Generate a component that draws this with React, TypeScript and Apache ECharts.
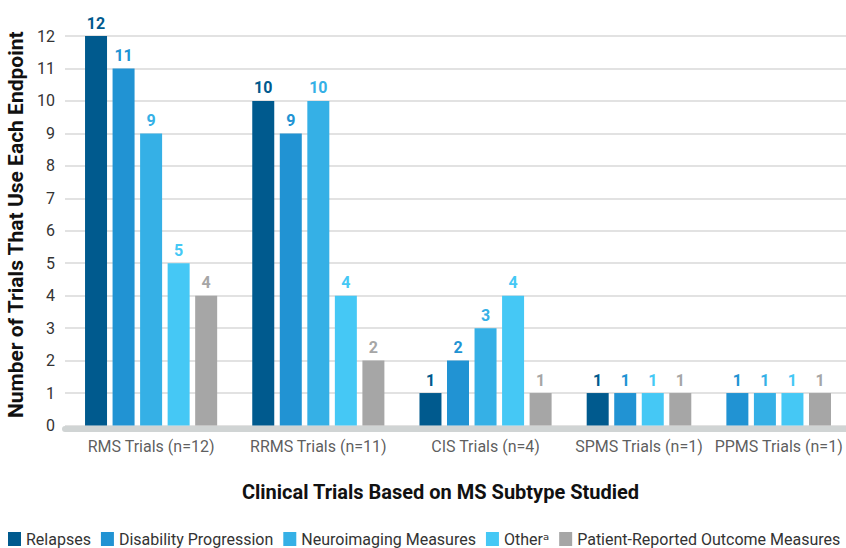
import React, { useEffect, useRef } from "react";
import * as echarts from "echarts";

const categories = [
  "RMS Trials (n=12)",
  "RRMS Trials (n=11)",
  "CIS Trials (n=4)",
  "SPMS Trials (n=1)",
  "PPMS Trials (n=1)",
];
const seriesNames = [
  "Relapses",
  "Disability Progression",
  "Neuroimaging Measures",
  "Other",
  "Patient-Reported Outcome Measures",
];
const relapses = [12, 10, 1, 1, null];
const disability = [11, 9, 2, 1, 1];
const neuroimaging = [9, 10, 3, null, 1];
const other = [5, 4, 4, 1, 1];
const patientReported = [4, 2, 1, 1, 1];
const yTicks = [0, 1, 2, 3, 4, 5, 6, 7, 8, 9, 10, 11, 12];

const colors = ["#005a8e", "#2193d3", "#35b0e6", "#45c8f5", "#a6a6a6"];
const FONT = "Roboto, 'DejaVu Sans', sans-serif";

export default function App() {
  const ref = useRef<HTMLDivElement>(null);
  useEffect(() => {
    document.body.style.margin = "0";
    if (!ref.current) return;
    const chart = echarts.init(ref.current, null, { renderer: "svg" });
    const allSeries = [relapses, disability, neuroimaging, other, patientReported];
    const groupStep = 2.073; // slot spacing between adjacent groups
    const seriesData: any[][] = allSeries.map(() => []);
    const centers: number[] = [];
    let cursor = 0;
    categories.forEach((cat, ci) => {
      const present: number[] = [];
      allSeries.forEach((arr, si) => {
        if (arr[ci] !== null && arr[ci] !== undefined) present.push(si);
      });
      present.forEach((si, j) => {
        seriesData[si].push([cursor + j, allSeries[si][ci]]);
      });
      centers.push(cursor + (present.length - 1) / 2);
      cursor += present.length - 1 + groupStep;
    });
    const lastX = cursor - groupStep;

    const barSeries = seriesNames.map((name, si) => ({
      name,
      type: "bar",
      data: seriesData[si],
      barWidth: 22,
      barGap: "-100%",
      itemStyle: { color: colors[si] },
      label: {
        show: true,
        position: "top",
        distance: 5,
        color: colors[si],
        fontWeight: "bold",
        fontSize: 16,
        fontFamily: FONT,
      },
    }));

    chart.setOption({
      animation: false,
      textStyle: { fontFamily: FONT },
      grid: {
        left: 65,
        right: 0,
        top: 36,
        bottom: 122.5,
        containLabel: false,
        outerBoundsMode: "none",
      },
      legend: {
        data: seriesNames,
        left: 3,
        top: 526,
        itemWidth: 13,
        itemHeight: 14,
        itemGap: 10,
        icon: "rect",
        formatter: (n: string) => (n === "Other" ? "Otherᵃ" : n),
        textStyle: { fontSize: 16, color: "#333", fontFamily: FONT },
      },
      xAxis: {
        type: "value",
        min: -1.127,
        max: lastX + 0.945,
        offset: 3,
        name: "Clinical Trials Based on MS Subtype Studied",
        nameLocation: "middle",
        nameGap: 53,
        nameTextStyle: {
          fontSize: 20,
          fontWeight: "bold",
          color: "#111",
          padding: [0, 30, 0, 0],
          fontFamily: FONT,
        },
        axisLine: { show: true, onZero: false, lineStyle: { color: "#d0d4d4", width: 6 } },
        axisTick: { show: false },
        axisLabel: { show: false },
        splitLine: { show: false },
      },
      yAxis: {
        type: "value",
        min: yTicks[0],
        max: yTicks[yTicks.length - 1],
        interval: 1,
        name: "Number of Trials That Use Each Endpoint",
        nameLocation: "middle",
        nameGap: 38,
        nameTextStyle: {
          fontSize: 21,
          fontWeight: "bold",
          color: "#111",
          padding: [0, 0, 0, 12],
          fontFamily: FONT,
        },
        axisLine: { show: false },
        axisTick: { show: false },
        axisLabel: { fontSize: 16, color: "#333", margin: 10, fontFamily: FONT },
        splitLine: { lineStyle: { color: "#d9d9d9", width: 1.5 } },
      },
      series: [
        ...barSeries,
        {
          name: "categoryLabels",
          type: "scatter",
          symbolSize: 0,
          silent: true,
          clip: false,
          data: categories.map((c, i) => ({ value: [centers[i], 0], name: c })),
          label: {
            show: true,
            position: "bottom",
            distance: 13,
            formatter: "{b}",
            fontSize: 16,
            color: "#333",
            fontFamily: FONT,
          },
        },
      ],
    });
    return () => chart.dispose();
  }, []);
  return <div ref={ref} style={{ width: 846, height: 548 }} />;
}
